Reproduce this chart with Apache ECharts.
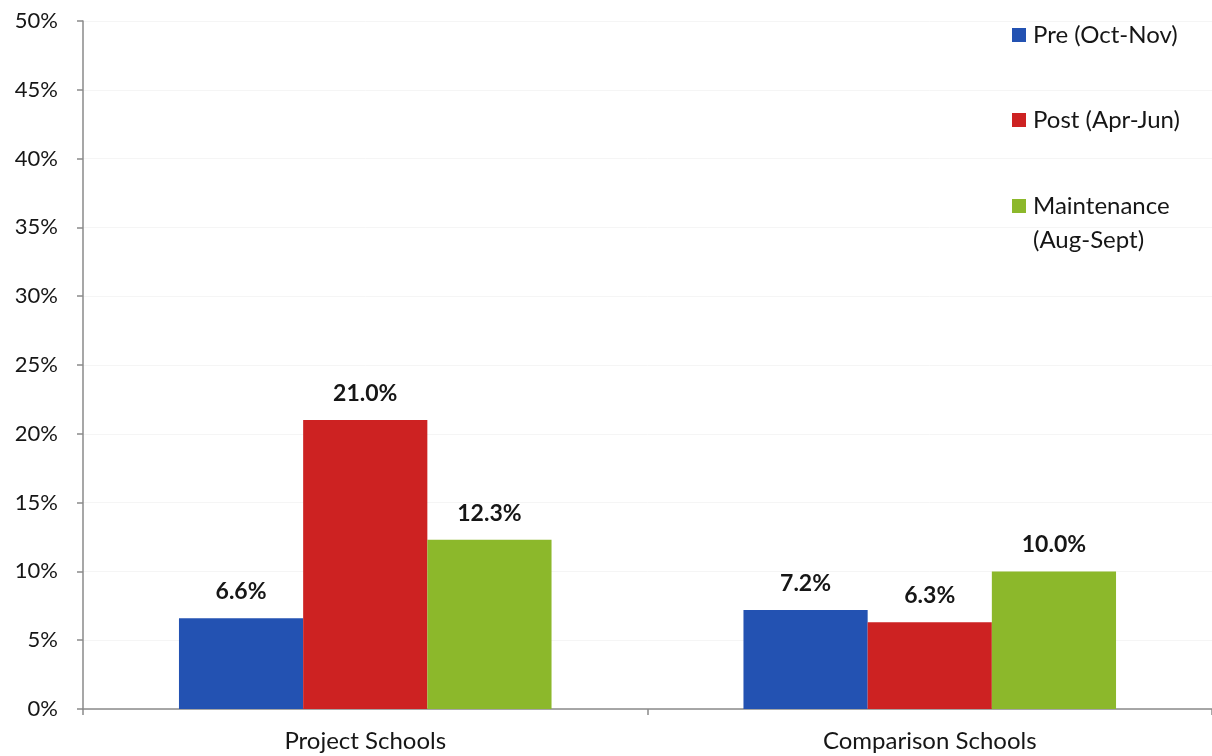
<!DOCTYPE html>
<html>
<head>
<meta charset="utf-8">
<script src="https://cdn.jsdelivr.net/npm/echarts@6/dist/echarts.min.js"></script>
<style>
  html, body { margin: 0; padding: 0; background: #fff; }
  #chart { width: 1212px; height: 756px; }
</style>
</head>
<body>
<div id="chart"></div>
<script>
// School groups on the x axis
const categories = ['Project Schools', 'Comparison Schools'];

// Percentages per measurement period
const preValues = [6.6, 7.2];
const postValues = [21.0, 6.3];
const maintenanceValues = [12.3, 10.0];

const seriesNames = ['Pre (Oct-Nov)', 'Post (Apr-Jun)', 'Maintenance (Aug-Sept)'];
const seriesColors = ['#2352B2', '#CD2222', '#8CB82B'];

// y axis: 0% to 50% in steps of 5%
const yMin = 0;
const yMax = 50;
const yStep = 5;

const FONT = 'Lato, "Open Sans", sans-serif';
const TEXT = '#161616';

const chart = echarts.init(document.getElementById('chart'), null, { renderer: 'canvas' });

function barSeries(name, values, color) {
  return {
    name: name,
    type: 'bar',
    data: values,
    barGap: '0%',
    barCategoryGap: '34%',
    itemStyle: { color: color },
    label: {
      show: true,
      position: 'top',
      distance: 15,
      formatter: p => p.value.toFixed(1) + '%',
      fontFamily: FONT,
      fontWeight: 'bold',
      fontSize: 23,
      color: TEXT
    }
  };
}

// one legend block per series so the two-line entry keeps its swatch on the first line
const legendTops = [18, 103, 155];
const legends = seriesNames.map((n, i) => ({
  data: [n],
  orient: 'vertical',
  left: 1012,
  top: legendTops[i],
  padding: 0,
  itemWidth: 14,
  itemHeight: 14,
  icon: 'rect',
  selectedMode: false,
  formatter: name => name === 'Maintenance (Aug-Sept)' ? '\nMaintenance\n(Aug-Sept)' : name,
  textStyle: { fontFamily: FONT, fontSize: 24, color: TEXT, lineHeight: 34, padding: [0, 0, 0, 2] }
}));

chart.setOption({
  animation: false,
  backgroundColor: '#ffffff',
  grid: { left: 83, top: 21, width: 1138, bottom: 47, containLabel: false },
  legend: legends,
  xAxis: {
    type: 'category',
    data: categories,
    axisLine: { lineStyle: { color: '#8a8a8a', width: 1.5 } },
    axisTick: { show: true, length: 6, lineStyle: { color: '#8a8a8a', width: 1.5 } },
    axisLabel: { fontFamily: FONT, fontSize: 24, color: TEXT, margin: 20 }
  },
  yAxis: {
    type: 'value',
    min: yMin,
    max: yMax,
    interval: yStep,
    axisLine: { show: true, lineStyle: { color: '#8a8a8a', width: 1.5 } },
    axisTick: { show: true, length: 6, lineStyle: { color: '#8a8a8a', width: 1.5 } },
    splitLine: { show: true, lineStyle: { color: '#f5f5f5', width: 1 } },
    axisLabel: {
      fontFamily: FONT, fontSize: 22, color: TEXT, margin: 25,
      formatter: v => v + '%'
    }
  },
  series: [
    barSeries(seriesNames[0], preValues, seriesColors[0]),
    barSeries(seriesNames[1], postValues, seriesColors[1]),
    barSeries(seriesNames[2], maintenanceValues, seriesColors[2])
  ]
});
</script>
</body>
</html>
